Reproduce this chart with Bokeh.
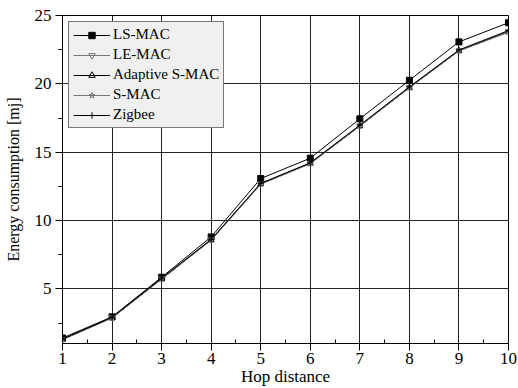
from bokeh.plotting import figure
from bokeh.models import FixedTicker, Range1d, Legend, LegendItem
from bokeh.embed import file_html
from bokeh.resources import INLINE

hops = [1, 2, 3, 4, 5, 6, 7, 8, 9, 10]
ls_mac = [1.4, 2.95, 5.85, 8.8, 13.07, 14.56, 17.44, 20.26, 23.07, 24.47]
le_mac = [1.3, 2.9, 5.75, 8.6, 12.7, 14.2, 16.95, 19.75, 22.45, 23.85]
adaptive_smac = [1.3, 2.88, 5.72, 8.58, 12.68, 14.18, 16.92, 19.72, 22.42, 23.8]
s_mac = [1.28, 2.86, 5.7, 8.55, 12.65, 14.15, 16.9, 19.7, 22.4, 23.78]
zigbee = [1.32, 2.92, 5.78, 8.62, 12.72, 14.22, 16.98, 19.78, 22.48, 23.9]

x_ticks = [1, 2, 3, 4, 5, 6, 7, 8, 9, 10]
x_minor = [1.5, 2.5, 3.5, 4.5, 5.5, 6.5, 7.5, 8.5, 9.5]
y_ticks = [5, 10, 15, 20, 25]
y_minor = [2.5, 7.5, 12.5, 17.5, 22.5]

FONT = "Liberation Serif"

p = figure(width=518, height=388, output_backend="svg", toolbar_location=None,
           x_range=Range1d(1, 10), y_range=Range1d(1, 25),
           min_border_left=62, min_border_right=10, min_border_top=15, min_border_bottom=44)
p.background_fill_color = "white"
p.border_fill_color = "white"
p.outline_line_color = "black"

p.xaxis.ticker = FixedTicker(ticks=x_ticks, minor_ticks=x_minor)
p.yaxis.ticker = FixedTicker(ticks=y_ticks, minor_ticks=y_minor)

for ax in (p.xaxis, p.yaxis):
    ax.axis_line_color = "black"
    ax.major_tick_line_color = "black"
    ax.minor_tick_line_color = "black"
    ax.major_label_text_color = "black"
    ax.major_label_text_font = FONT
    ax.major_label_text_font_style = "normal"
    ax.major_label_text_font_size = "17px"
    ax.axis_label_text_font = FONT
    ax.axis_label_text_font_style = "normal"
    ax.axis_label_text_color = "black"
    ax.major_tick_in = 0
    ax.major_tick_out = 7

p.xaxis.axis_label_text_font_size = "17px"
p.yaxis.axis_label_text_font_size = "16px"
p.xaxis.minor_tick_in = 4
p.xaxis.minor_tick_out = 0
p.yaxis.minor_tick_in = 0
p.yaxis.minor_tick_out = 4
p.xaxis.major_label_standoff = 2
p.yaxis.major_label_standoff = 4
p.xaxis.axis_label = "Hop distance"
p.yaxis.axis_label = "Energy consumption [mj]"
p.xaxis.axis_label_standoff = 0
p.yaxis.axis_label_standoff = 10

p.grid.grid_line_color = "#222222"

series = [
    ("LS-MAC", ls_mac, "black", "square", "black"),
    ("LE-MAC", le_mac, "#777777", "inverted_triangle", None),
    ("Adaptive S-MAC", adaptive_smac, "black", "triangle", None),
    ("S-MAC", s_mac, "#777777", "star", None),
    ("Zigbee", zigbee, "black", "cross", None),
]

items = []
for name, ys, col, mk, fill in series:
    r1 = p.line(hops, ys, line_color=col, line_width=1)
    r2 = p.scatter(hops, ys, marker=mk, size=6, line_color=col,
                   fill_color=fill if fill else "white", fill_alpha=1 if fill else 0)
    items.append(LegendItem(label=name, renderers=[r1, r2]))

legend = Legend(items=items, location="top_left")
legend.margin = 6
legend.padding = 4
legend.spacing = 3
legend.glyph_width = 37
legend.glyph_height = 16
legend.label_standoff = 3
legend.label_text_font = FONT
legend.label_text_font_style = "normal"
legend.label_text_font_size = "15px"
legend.label_text_color = "black"
legend.label_height = 16
legend.background_fill_color = "#f0f0f0"
legend.background_fill_alpha = 1
legend.border_line_color = "black"
p.add_layout(legend)

open("out.html", "w").write(file_html(p, INLINE))
